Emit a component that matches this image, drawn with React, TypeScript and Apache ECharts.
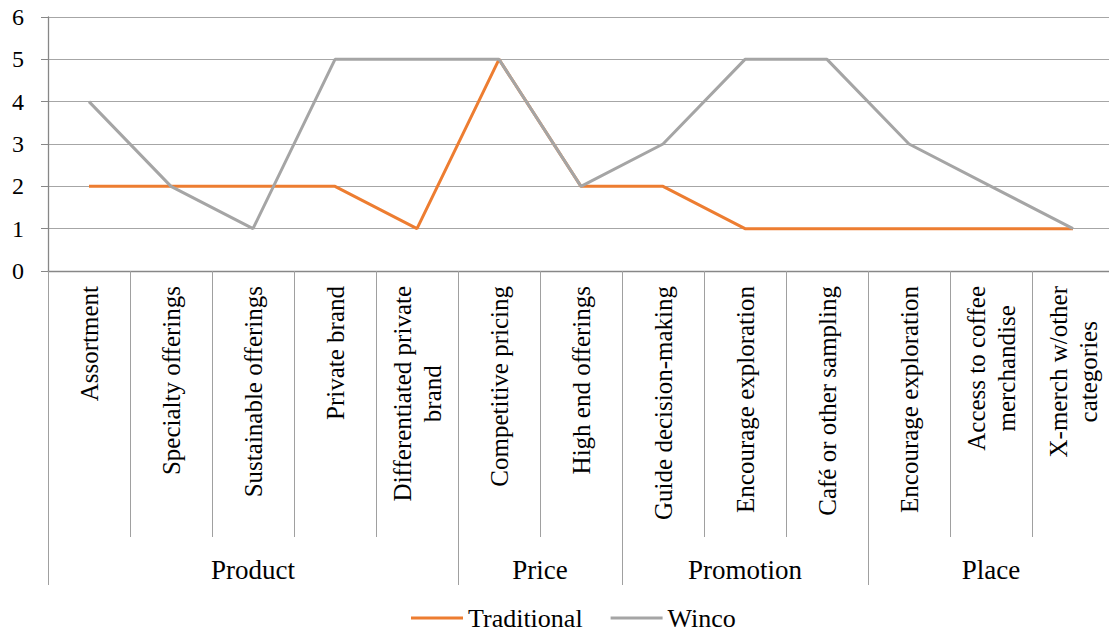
import React, { useEffect, useRef } from "react";
import * as echarts from "echarts";

const categories = [
  "Assortment",
  "Specialty offerings",
  "Sustainable offerings",
  "Private brand",
  "Differentiated private\nbrand",
  "Competitive pricing",
  "High end offerings",
  "Guide decision-making",
  "Encourage exploration",
  "Café or other sampling",
  "Encourage exploration",
  "Access to coffee\nmerchandise",
  "X-merch w/other\ncategories",
];
const groupNames = ["Product", "Price", "Promotion", "Place"];
const groupSizes = [5, 2, 3, 3];
const traditional = [2, 2, 2, 2, 1, 5, 2, 2, 1, 1, 1, 1, 1];
const winco = [4, 2, 1, 5, 5, 5, 2, 3, 5, 5, 3, 2, 1];
const yTicks = [0, 1, 2, 3, 4, 5, 6];

const FONT = "'Liberation Serif', 'Times New Roman', serif";

export default function App() {
  const ref = useRef<HTMLDivElement>(null);
  useEffect(() => {
    if (!ref.current) return;
    const chart = echarts.init(ref.current, null, { renderer: "svg" });
    const n = categories.length;
    const bounds: number[] = [];
    const centres: number[] = [];
    let acc = 0;
    groupSizes.forEach((s) => {
      bounds.push(acc);
      centres.push(acc + s / 2);
      acc += s;
    });
    const inner: number[] = [];
    for (let i = 1; i < n; i++) inner.push(i);

    chart.setOption({
      animation: false,
      textStyle: { fontFamily: FONT },
      grid: {
        left: 48,
        width: 1066,
        top: 17,
        bottom: 364,
        containLabel: false,
        outerBoundsMode: "none",
      },
      legend: {
        top: 603,
        left: 406,
        icon: "rect",
        itemWidth: 52,
        itemHeight: 3,
        itemGap: 28,
        padding: [2, 5, 2, 5],
        textStyle: { fontFamily: FONT, fontSize: 26, color: "#000" },
        data: ["Traditional", "Winco"],
      },
      xAxis: [
        {
          type: "category",
          data: categories,
          boundaryGap: true,
          axisLine: { show: true, lineStyle: { color: "#878787", width: 1.3 } },
          axisTick: { show: false },
          axisLabel: {
            interval: 0,
            rotate: 90,
            margin: 15,
            color: "#000",
            fontFamily: FONT,
            fontSize: 25,
            lineHeight: 30,
            formatter: (v: string) =>
              v
                .split("\n")
                .map((l) => "{c|" + l + "}")
                .join("\n"),
            rich: {
              c: { align: "center", fontFamily: FONT, fontSize: 25, lineHeight: 30, color: "#000" },
            },
          },
        },
        {
          type: "value",
          min: 0,
          max: n,
          position: "bottom",
          axisLine: { show: false },
          splitLine: { show: false },
          axisTick: {
            show: true,
            customValues: inner,
            length: 266,
            lineStyle: { color: "#A0A0A0", width: 1 },
          },
          axisLabel: { show: false },
        },
        {
          type: "value",
          min: 0,
          max: n,
          position: "bottom",
          axisLine: { show: false },
          splitLine: { show: false },
          axisTick: {
            show: true,
            customValues: bounds,
            length: 314,
            lineStyle: { color: "#A0A0A0", width: 1 },
          },
          axisLabel: {
            show: true,
            customValues: centres,
            margin: 285,
            color: "#000",
            fontFamily: FONT,
            fontSize: 27,
            formatter: (v: number) => {
              const i = centres.findIndex((c) => Math.abs(c - v) < 1e-6);
              return i >= 0 ? groupNames[i] : "";
            },
          },
        },
      ],
      yAxis: {
        type: "value",
        min: 0,
        max: 6,
        interval: 1,
        axisLine: { show: true, lineStyle: { color: "#878787", width: 1.3 } },
        axisTick: { show: true, length: 7, lineStyle: { color: "#878787" } },
        splitLine: { show: true, lineStyle: { color: "#A6A6A6", width: 1 } },
        axisLabel: {
          margin: 24,
          color: "#000",
          fontFamily: FONT,
          fontSize: 24,
          customValues: yTicks,
        },
      },
      series: [
        {
          name: "Traditional",
          type: "line",
          data: traditional,
          showSymbol: false,
          symbol: "none",
          lineStyle: { color: "#ED7D31", width: 3 },
          itemStyle: { color: "#ED7D31" },
          z: 3,
        },
        {
          name: "Winco",
          type: "line",
          data: winco,
          showSymbol: false,
          symbol: "none",
          lineStyle: { color: "#A5A5A5", width: 3 },
          itemStyle: { color: "#A5A5A5" },
          z: 4,
        },
      ],
    });
    return () => chart.dispose();
  }, []);
  return (
    <div
      ref={ref}
      style={{ position: "fixed", left: 0, top: 0, width: 1109, height: 635, background: "#fff" }}
    />
  );
}
